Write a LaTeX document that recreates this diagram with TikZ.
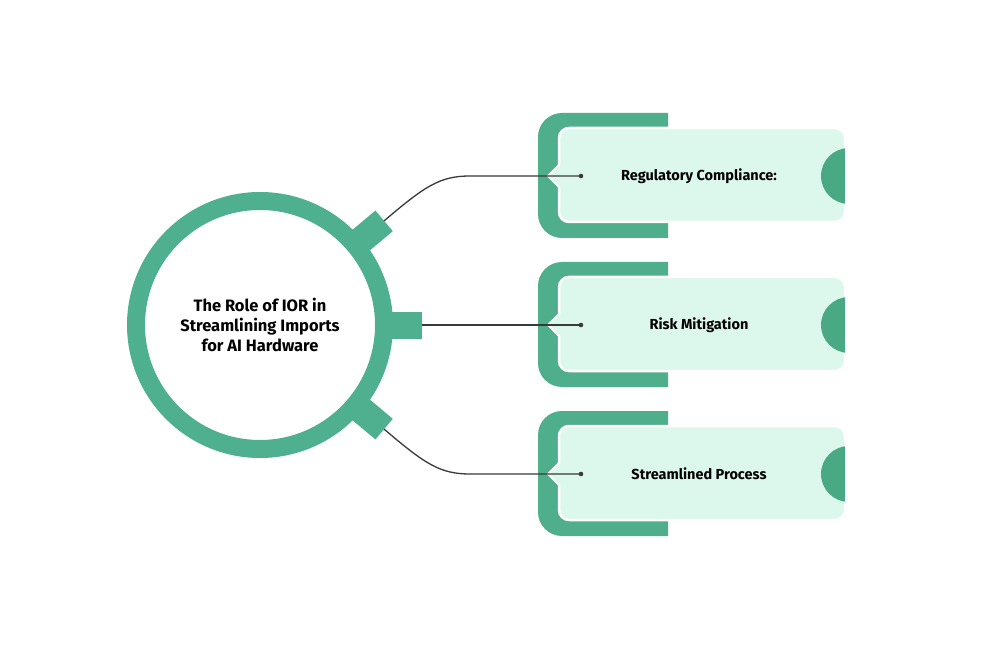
\documentclass[tikz,border=0pt]{standalone}
\usepackage{fontspec}
\setmainfont{Fira Sans}
\definecolor{ringgreen}{HTML}{4EB08E}
\definecolor{brackgreen}{HTML}{4FAE8B}
\definecolor{semigreen}{HTML}{4AA985}
\definecolor{lightcard}{HTML}{DCF7EC}
\definecolor{linegray}{HTML}{3A3A3A}
\tikzset{
  hubstyle/.style={circle, draw=ringgreen, line width=18pt, minimum size=248pt, inner sep=0pt,
    align=center, font=\bfseries\fontsize{16.5}{20}\selectfont, text=black},
  tabstyle/.style={fill=ringgreen},
  conn/.style={draw=linegray, line width=1.3pt},
  dotstyle/.style={fill=linegray},
  cardtext/.style={font=\bfseries\fontsize{14.5}{17}\selectfont, text=black, inner sep=0pt},
  bracket/.style={fill=brackgreen},
  lightbox/.style={fill=lightcard, draw=white, line width=2.5pt, rounded corners=10pt}
}
\newcommand{\mycard}[3]{%
  \fill[bracket] (668,#2-63) {[rounded corners=24pt] -- (538,#2-63) -- (538,#2+62)} -- (668,#2+62) -- cycle;
  \path[lightbox] (559,#2-48) rectangle (845,#2+46);
  \fill[lightcard] (548,#2) -- (561,#2-11) -- (561,#2+11) -- cycle;
  \draw[white, line width=2pt] (559,#2-11) -- (548,#2) -- (559,#2+11);
  \begin{scope}
    \clip (815,#2-35) rectangle (845,#2+35);
    \fill[semigreen] (849,#2) circle (28);
  \end{scope}
  \node[cardtext] (#1) at (699,#2) {#3};
}
\begin{document}
\begin{tikzpicture}[x=1pt, y=-1pt]
\useasboundingbox (0,0) rectangle (998,652);
\fill[white] (0,0) rectangle (998,652);

% cards
\mycard{card1}{176}{Regulatory Compliance:}
\mycard{card2}{325}{Risk Mitigation}
\mycard{card3}{474}{Streamlined Process}

% dots
\coordinate (d1) at (581,176);
\coordinate (d2) at (581,325);
\coordinate (d3) at (581,474);

% hub
\node[hubstyle] (hub) at (260,325) {The Role of IOR in\\Streamlining Imports\\for AI Hardware};

% tabs
\begin{scope}[shift={(hub.center)}, rotate=40]
  \fill[tabstyle] (118,-13.5) rectangle (162,13.5);
  \coordinate (t1) at (162,0);
\end{scope}
\begin{scope}[shift={(hub.center)}]
  \fill[tabstyle] (118,-13.5) rectangle (162,13.5);
  \coordinate (t2) at (162,0);
\end{scope}
\begin{scope}[shift={(hub.center)}, rotate=-40]
  \fill[tabstyle] (118,-13.5) rectangle (162,13.5);
  \coordinate (t3) at (162,0);
\end{scope}

% connectors
\coordinate (k1) at (470,176);
\coordinate (k3) at (470,474);
\draw[conn] (t1) .. controls (425,186) and (440,176) .. (k1) -- (d1);
\draw[conn] (t2) -- (d2);
\draw[conn] (t3) .. controls (425,464) and (440,474) .. (k3) -- (d3);
\fill[dotstyle] (d1) circle (2.3);
\fill[dotstyle] (d2) circle (2.3);
\fill[dotstyle] (d3) circle (2.3);
\end{tikzpicture}
\end{document}
